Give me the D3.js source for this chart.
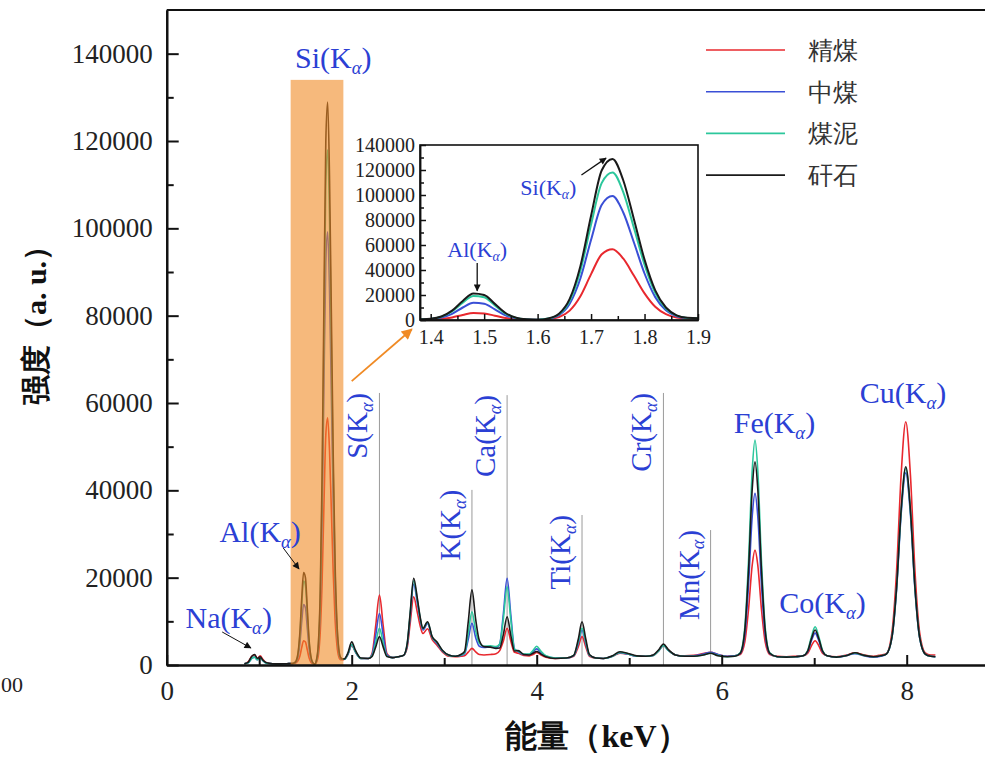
<!DOCTYPE html>
<html>
<head>
<meta charset="utf-8">
<script src="https://cdn.jsdelivr.net/npm/d3@7"></script>
<style>
  body { margin: 0; background: #fff; }
  text { font-family: "Liberation Serif", "Times New Roman", serif; }
</style>
</head>
<body>
<svg id="chart"></svg>
<script>
/* 能量 (keV) */
const energy = [
  0.84, 0.88, 0.92, 0.95, 0.98, 1.01, 1.04, 1.08, 1.14, 1.22, 1.30, 1.36,
  1.38, 1.40, 1.42, 1.44, 1.46, 1.48, 1.50, 1.52, 1.54, 1.56, 1.58, 1.60,
  1.62, 1.64, 1.66, 1.68, 1.70, 1.72, 1.74, 1.76, 1.78, 1.80, 1.82, 1.84,
  1.86, 1.88, 1.90, 1.92, 1.96, 2.00, 2.04, 2.10, 2.18, 2.22, 2.26, 2.30,
  2.34, 2.38, 2.44, 2.50, 2.56, 2.60, 2.63, 2.67, 2.71, 2.74, 2.77, 2.82,
  2.87, 2.92, 2.98, 3.05, 3.12, 3.18, 3.22, 3.26, 3.30, 3.34, 3.38, 3.43,
  3.50, 3.56, 3.60, 3.64, 3.68, 3.72, 3.76, 3.80, 3.86, 3.92, 3.96, 4.00,
  4.04, 4.10, 4.20, 4.32, 4.40, 4.45, 4.49, 4.53, 4.57, 4.64, 4.72, 4.82,
  4.90, 4.98, 5.08, 5.18, 5.26, 5.32, 5.37, 5.42, 5.50, 5.60, 5.70, 5.80,
  5.88, 5.96, 6.06, 6.14, 6.20, 6.25, 6.29, 6.33, 6.36, 6.39, 6.43, 6.47,
  6.52, 6.60, 6.70, 6.80, 6.88, 6.93, 6.97, 7.01, 7.05, 7.09, 7.14, 7.24,
  7.34, 7.44, 7.54, 7.64, 7.72, 7.78, 7.84, 7.89, 7.94, 7.99, 8.04, 8.09,
  8.14, 8.20, 8.26, 8.31
];

/* 精煤 */
const jingmei = [
  300, 700, 2000, 2300, 1500, 2100, 1300, 500, 300, 250, 300, 350,
  400, 540, 1000, 2070, 4050, 5570, 5260, 3450, 1575, 610, 280, 200,
  660, 2310, 7500, 19010, 36680, 52640, 56630, 49220, 35540, 21290, 10560, 4620,
  1930, 1200, 1200, 1300, 2500, 4500, 3000, 1500, 1500, 2650, 9100, 16000,
  9100, 2650, 1700, 1900, 2200, 4000, 9100, 15600, 12000, 9000, 7200, 8300,
  5800, 4600, 3000, 2000, 1900, 2000, 2100, 2950, 3800, 3000, 2400, 2300,
  2400, 2600, 3300, 5500, 8400, 5500, 2900, 2700, 2200, 2100, 2400, 2900,
  2400, 1800, 1500, 1600, 2000, 4200, 6500, 4200, 2000, 1600, 1500, 2000,
  2700, 2500, 2000, 2000, 2200, 3300, 4500, 3500, 2300, 2100, 2200, 2600,
  2900, 2400, 2000, 2100, 2400, 5300, 12700, 22900, 26300, 22900, 12700, 5300,
  2400, 2000, 1900, 2000, 2100, 2700, 4400, 5570, 4400, 2700, 2100, 1900,
  2200, 2800, 2300, 2000, 2300, 2600, 7400, 21300, 43600, 55700, 43600, 21300,
  7400, 2800, 2300, 2300
];

/* 中煤 */
const zhongmei = [
  300, 500, 1500, 1800, 1200, 1600, 1000, 400, 300, 250, 300, 350,
  450, 750, 1940, 4960, 10000, 13860, 13080, 8460, 3700, 1240, 410, 200,
  1000, 3900, 13000, 33200, 64200, 92200, 99200, 86200, 62200, 37200, 18300, 7800,
  3000, 1500, 1300, 1300, 2500, 4600, 3000, 1500, 1500, 2350, 6900, 11800,
  6900, 2350, 1700, 1900, 2200, 4500, 10600, 18500, 14200, 10500, 8000, 9500,
  6300, 5000, 3200, 2200, 2000, 2200, 2550, 5900, 9550, 6300, 4300, 4000,
  4100, 4000, 4800, 11800, 19850, 11500, 3700, 3100, 2400, 2400, 3000, 3700,
  3000, 2000, 1600, 1600, 2100, 5000, 8000, 5000, 2200, 1600, 1500, 2000,
  2800, 2500, 2000, 2000, 2200, 3300, 4500, 3400, 2300, 2000, 2100, 2500,
  2900, 2400, 2000, 2100, 2600, 7000, 18400, 34100, 39300, 34100, 18400, 7000,
  2600, 1900, 1800, 1900, 2100, 3060, 5550, 7300, 5550, 3060, 2100, 1800,
  2100, 2600, 2100, 1800, 2000, 2500, 6200, 17100, 34600, 44000, 34600, 17100,
  6200, 2500, 2000, 1900
];

/* 煤泥 */
const meini = [
  300, 500, 1500, 1800, 1200, 1600, 1000, 400, 300, 250, 300, 350,
  480, 890, 2550, 6830, 13850, 19230, 18140, 11700, 5075, 1640, 490, 200,
  1150, 4600, 15430, 39470, 76360, 109680, 118010, 102540, 73980, 44230, 21720, 9210,
  3480, 1630, 1340, 1300, 2600, 4700, 3100, 1500, 1500, 2100, 5100, 8400,
  5100, 2100, 1700, 1900, 2200, 4800, 11200, 19300, 14800, 10800, 8300, 9800,
  6400, 5200, 3300, 2200, 2000, 2300, 2750, 7300, 12200, 7800, 5000, 4300,
  4400, 4200, 4800, 10700, 17900, 10400, 3600, 3200, 2500, 2500, 3300, 4300,
  3300, 2100, 1600, 1600, 2200, 5400, 8400, 5400, 2300, 1600, 1500, 2000,
  2900, 2600, 2000, 2000, 2200, 3300, 4500, 3400, 2300, 2000, 2000, 2300,
  2700, 2200, 1900, 2000, 2800, 8700, 23800, 44600, 51500, 44600, 23800, 8700,
  2800, 1900, 1800, 1900, 2100, 3350, 6500, 8770, 6500, 3350, 2100, 1800,
  2100, 2700, 2200, 1900, 2100, 2500, 6300, 17500, 35300, 45000, 35300, 17500,
  6300, 2500, 2000, 1900
];

/* 矸石 */
const ganshi = [
  300, 600, 2000, 2400, 1500, 1900, 1100, 500, 300, 250, 300, 350,
  490, 940, 2770, 7510, 15250, 21180, 19980, 12890, 5575, 1790, 520, 200,
  1240, 5010, 16840, 43100, 83400, 119800, 128900, 112000, 80800, 48300, 23700, 10020,
  3750, 1710, 1360, 1400, 2800, 5300, 3400, 1600, 1500, 1950, 4150, 6500,
  4150, 1950, 1700, 1900, 2200, 4900, 11400, 19850, 15200, 11000, 8400, 9900,
  6500, 5300, 3400, 2300, 2000, 2400, 3100, 9900, 17200, 10500, 5600, 4200,
  4100, 3800, 3900, 7000, 11060, 6800, 3200, 3300, 2400, 2300, 2700, 3100,
  2600, 1900, 1500, 1600, 2200, 5960, 9900, 6000, 2400, 1600, 1500, 2100,
  3050, 2700, 2100, 2000, 2300, 3500, 4800, 3600, 2300, 2000, 2000, 2300,
  2700, 2100, 1900, 2000, 2700, 8000, 21600, 40300, 46550, 40300, 21600, 8000,
  2700, 1900, 1800, 1900, 2100, 3200, 6000, 8000, 6000, 3200, 2100, 1800,
  2100, 2800, 2200, 1900, 2100, 2500, 6300, 17600, 35600, 45400, 35600, 17600,
  6300, 2500, 2000, 1900
];

const seriesNames = ["精煤", "中煤", "煤泥", "矸石"];
const seriesColors = ["#e8282e", "#3a4fd6", "#2cc79c", "#1a1a1a"];

const yTicks = [0, 20000, 40000, 60000, 80000, 100000, 120000, 140000];
const xTicks = [0, 2, 4, 6, 8];
const insetXTicks = [1.4, 1.5, 1.6, 1.7, 1.8, 1.9];

/* 竖线标注的元素峰 */
const lineElements = ["S", "K", "Ca", "Ti", "Cr", "Mn"];
const lineEnergy = [2.30, 3.30, 3.68, 4.49, 5.37, 5.88];
const lineTop = [62300, 40100, 61800, 34350, 62300, 30900];

/* 横排的元素峰标签 */
const textElements = ["Na", "Al", "Si", "Fe", "Co", "Cu"];
const textEnergy = [0.67, 1.01, 1.80, 6.57, 7.09, 7.96];
const textValue = [8470, 28170, 136700, 53130, 11900, 60000];

/* SVG */
const width = 985, height = 757;
const svg = d3.select("#chart").attr("width", width).attr("height", height);

const x = d3.scaleLinear().domain([0, 9]).range([166.7, 166.7 + 92.5 * 9]);
const y = d3.scaleLinear().domain([0, 150000]).range([665, 10]);

const series = [jingmei, zhongmei, meini, ganshi].map((vals, i) => ({
  name: seriesNames[i],
  color: seriesColors[i],
  values: energy.map((e, j) => [e, vals[j]])
}));

const blue = "#2b40d4";
const intFormat = d3.format("d");

/* 竖线 */
svg.append("g").selectAll("line")
  .data(lineElements)
  .join("line")
  .attr("x1", (d, i) => x(lineEnergy[i]))
  .attr("x2", (d, i) => x(lineEnergy[i]))
  .attr("y1", (d, i) => y(lineTop[i]))
  .attr("y2", y(0))
  .attr("stroke", "#9a9a9a")
  .attr("stroke-width", 1);

/* 曲线 */
const line = d3.line()
  .x(d => x(d[0]))
  .y(d => y(d[1]))
  .curve(d3.curveMonotoneX);

svg.append("g").selectAll("path")
  .data(series)
  .join("path")
  .attr("d", d => line(d.values))
  .attr("fill", "none")
  .attr("stroke", d => d.color)
  .attr("stroke-width", 1.6);

/* 橙色区域 */
svg.append("rect")
  .attr("x", x(1.34))
  .attr("y", y(134000))
  .attr("width", x(1.91) - x(1.34))
  .attr("height", y(0) - y(134000))
  .attr("fill", "#f08a24")
  .attr("fill-opacity", 0.6);

/* 轴 */
const axisFont = 27;
const yAxis = svg.append("g")
  .attr("transform", "translate(" + x(0) + ",0)")
  .call(d3.axisLeft(y).tickValues(yTicks).tickFormat(intFormat)
    .tickSize(-12).tickSizeOuter(0).tickPadding(14));
svg.append("g")
  .attr("transform", "translate(" + x(0) + ",0)")
  .call(d3.axisLeft(y).tickValues(d3.range(10000, 150000, 20000)).tickSize(-7).tickSizeOuter(0).tickFormat(""));
const xAxis = svg.append("g")
  .attr("transform", "translate(0," + y(0) + ")")
  .call(d3.axisBottom(x).tickValues(xTicks).tickFormat(intFormat)
    .tickSize(-10).tickSizeOuter(0).tickPadding(16));
svg.append("g")
  .attr("transform", "translate(0," + y(0) + ")")
  .call(d3.axisBottom(x).tickValues([1, 3, 5, 7]).tickSize(-7).tickSizeOuter(0).tickFormat(""));

svg.selectAll(".domain").attr("stroke-width", 2.2).attr("stroke", "#111");
svg.selectAll(".tick line").attr("stroke-width", 2).attr("stroke", "#111");
yAxis.selectAll("text").attr("font-size", axisFont).attr("fill", "#222")
  .attr("font-family", "Liberation Serif");
xAxis.selectAll("text").attr("font-size", axisFont).attr("fill", "#222")
  .attr("font-family", "Liberation Serif");

/* 上边框 */
svg.append("line")
  .attr("x1", x(0)).attr("x2", width)
  .attr("y1", y(150000)).attr("y2", y(150000))
  .attr("stroke", "#111").attr("stroke-width", 2.2);

/* 左下角残留的刻度文字 */
svg.append("text")
  .attr("x", 1).attr("y", 692)
  .attr("text-anchor", "start")
  .attr("font-size", 22)
  .attr("fill", "#222")
  .text("00");

/* 轴标题 */
svg.append("text")
  .attr("transform", "translate(46,318) rotate(-90)")
  .attr("text-anchor", "middle")
  .attr("font-family", "Liberation Sans, Noto Sans CJK SC, sans-serif")
  .attr("font-weight", "bold")
  .attr("font-size", 30)
  .attr("fill", "#111")
  .text("强度（a. u.）");

svg.append("text")
  .attr("x", 597).attr("y", 747)
  .attr("text-anchor", "middle")
  .attr("font-family", "Liberation Sans, Noto Sans CJK SC, sans-serif")
  .attr("font-weight", "bold")
  .attr("font-size", 32)
  .attr("fill", "#111")
  .text("能量（keV）");

/* 带下标的标签 */
function kAlpha(sel, el) {
  sel.append("tspan").text(el + "(K");
  sel.append("tspan").text("α")
    .attr("font-size", "0.62em").attr("font-style", "italic").attr("dy", "0.32em");
  sel.append("tspan").text(")").attr("dy", "-0.2em");
}

svg.append("g").selectAll("text")
  .data(lineElements)
  .join("text")
  .attr("transform", (d, i) => "translate(" + (x(lineEnergy[i]) - 12) + "," + y(lineTop[i]) + ") rotate(-90)")
  .attr("text-anchor", "end")
  .attr("font-size", 29)
  .attr("fill", blue)
  .each(function (d) { kAlpha(d3.select(this), d); });

svg.append("g").selectAll("text")
  .data(textElements)
  .join("text")
  .attr("x", (d, i) => x(textEnergy[i]))
  .attr("y", (d, i) => y(textValue[i]))
  .attr("text-anchor", "middle")
  .attr("font-size", 30)
  .attr("fill", blue)
  .each(function (d) { kAlpha(d3.select(this), d); });

/* 箭头 */
const defs = svg.append("defs");
defs.append("marker")
  .attr("id", "arrowBlack")
  .attr("viewBox", "0 0 10 10").attr("refX", 9).attr("refY", 5)
  .attr("markerWidth", 10).attr("markerHeight", 7)
  .attr("markerUnits", "userSpaceOnUse")
  .attr("orient", "auto")
  .append("path").attr("d", "M0,0 L10,5 L0,10 z").attr("fill", "#111");
defs.append("marker")
  .attr("id", "arrowOrange")
  .attr("viewBox", "0 0 10 10").attr("refX", 9).attr("refY", 5)
  .attr("markerWidth", 13).attr("markerHeight", 11)
  .attr("markerUnits", "userSpaceOnUse")
  .attr("orient", "auto")
  .append("path").attr("d", "M0,0 L10,5 L0,10 z").attr("fill", "#f08a24");

function arrow(g, sx, sy, ex, ey, color, marker, w) {
  g.append("line")
    .attr("x1", sx).attr("y1", sy).attr("x2", ex).attr("y2", ey)
    .attr("stroke", color).attr("stroke-width", w)
    .attr("marker-end", "url(#" + marker + ")");
}
arrow(svg, x(0.60), y(7560), x(0.91), y(3890), "#111", "arrowBlack", 1);
arrow(svg, x(1.26), y(26800), x(1.43), y(22000), "#111", "arrowBlack", 1);
arrow(svg, x(2.00), y(65000), x(2.65), y(76900), "#f08a24", "arrowOrange", 1.8);

/* 插图 */
const ix = d3.scaleLinear().domain([1.38, 1.9]).range([420, 698]);
const iy = d3.scaleLinear().domain([0, 140000]).range([320, 145]);
const inset = svg.append("g");

defs.append("clipPath").attr("id", "insetClip")
  .append("rect")
  .attr("x", ix(1.38)).attr("y", iy(140000))
  .attr("width", ix(1.9) - ix(1.38)).attr("height", iy(0) - iy(140000));

const iline = d3.line()
  .x(d => ix(d[0]))
  .y(d => iy(d[1]))
  .curve(d3.curveMonotoneX);

inset.append("g").attr("clip-path", "url(#insetClip)")
  .selectAll("path")
  .data(series)
  .join("path")
  .attr("d", d => iline(d.values.filter(p => p[0] >= 1.36 && p[0] <= 1.92)))
  .attr("fill", "none")
  .attr("stroke", d => d.color)
  .attr("stroke-width", 2);

inset.append("g")
  .attr("transform", "translate(" + ix(1.38) + ",0)")
  .call(d3.axisLeft(iy).tickValues(yTicks).tickFormat(intFormat)
    .tickSize(-6).tickSizeOuter(0).tickPadding(5));
inset.append("g")
  .attr("transform", "translate(" + ix(1.38) + ",0)")
  .call(d3.axisLeft(iy).tickValues(d3.range(10000, 140000, 20000)).tickSize(-4).tickSizeOuter(0).tickFormat(""));
inset.append("g")
  .attr("transform", "translate(0," + iy(0) + ")")
  .call(d3.axisBottom(ix).tickValues(insetXTicks).tickSize(-6).tickSizeOuter(0).tickPadding(10).tickFormat(d3.format(".1f")));
inset.append("g")
  .attr("transform", "translate(0," + iy(0) + ")")
  .call(d3.axisBottom(ix).tickValues([1.45, 1.55, 1.65, 1.75, 1.85]).tickSize(-4).tickSizeOuter(0).tickFormat(""));

inset.selectAll(".domain").attr("stroke", "#111").attr("stroke-width", 1.5);
inset.selectAll(".tick line").attr("stroke", "#111").attr("stroke-width", 1.5);
inset.selectAll("text").attr("font-size", 20).attr("fill", "#222")
  .attr("font-family", "Liberation Serif");

inset.append("rect")
  .attr("x", ix(1.38)).attr("y", iy(140000))
  .attr("width", ix(1.9) - ix(1.38)).attr("height", iy(0) - iy(140000))
  .attr("fill", "none").attr("stroke", "#111").attr("stroke-width", 1.6);

inset.append("text")
  .attr("x", ix(1.487)).attr("y", iy(50400))
  .attr("text-anchor", "middle").attr("font-size", 22).attr("fill", blue)
  .call(kAlpha, "Al");
inset.append("text")
  .attr("x", ix(1.62)).attr("y", iy(100000))
  .attr("text-anchor", "middle").attr("font-size", 22).attr("fill", blue)
  .call(kAlpha, "Si");
arrow(inset, ix(1.487), iy(45600), ix(1.487), iy(23400), "#111", "arrowBlack", 1.3);
arrow(inset, ix(1.682), iy(116000), ix(1.728), iy(129500), "#111", "arrowBlack", 1.3);

/* 图例 */
const legend = svg.append("g").attr("transform", "translate(706,50)");
legend.selectAll("line")
  .data(series)
  .join("line")
  .attr("x1", 0).attr("x2", 79)
  .attr("y1", (d, i) => i * 41.7).attr("y2", (d, i) => i * 41.7)
  .attr("stroke", d => d.color)
  .attr("stroke-width", 1.6);
legend.selectAll("text")
  .data(series)
  .join("text")
  .attr("x", 102)
  .attr("y", (d, i) => i * 41.7)
  .attr("dy", "0.36em")
  .attr("font-family", "Noto Sans CJK SC, sans-serif")
  .attr("font-size", 25)
  .attr("fill", "#333")
  .text(d => d.name);
</script>
</body>
</html>
